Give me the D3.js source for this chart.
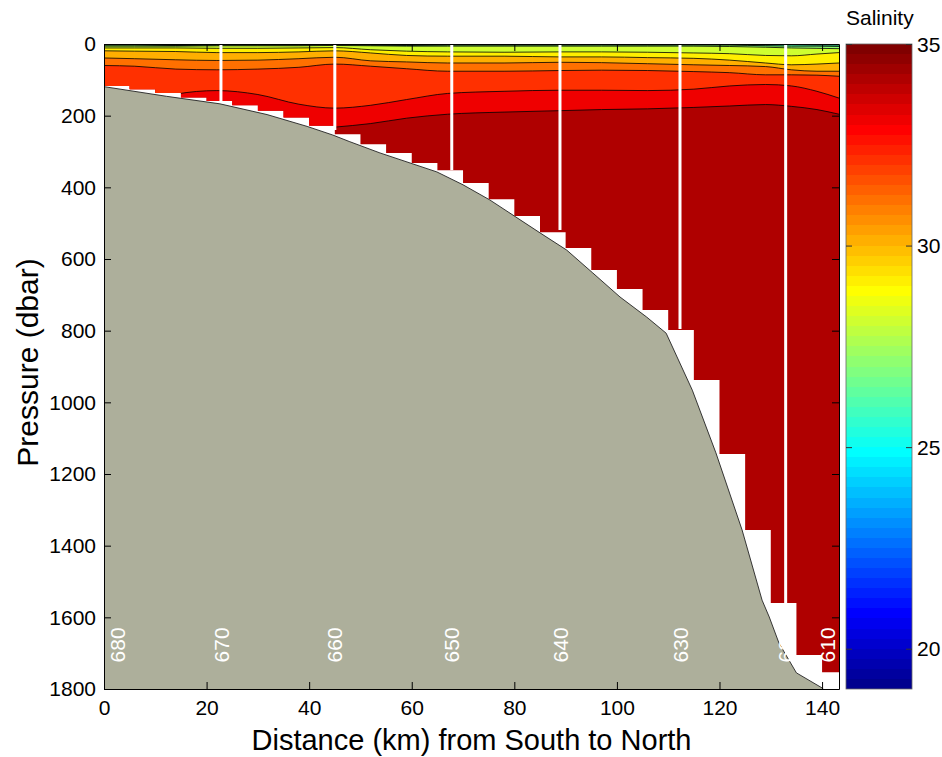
<!DOCTYPE html>
<html>
<head>
<meta charset="utf-8">
<script src="https://cdn.jsdelivr.net/npm/d3@7"></script>
<style>
  html, body { margin: 0; padding: 0; background: #fff; }
  svg { display: block; font-family: "Liberation Sans", Arial, Helvetica, sans-serif; }
</style>
</head>
<body>
<svg id="chart" width="942" height="757"></svg>
<script>
// ---------------------------------------------------------------
// Salinity section, South to North
// ---------------------------------------------------------------

// Distances (km) at which each isohaline depth is given
const distKm = [0, 6, 14, 22, 30, 38, 45, 52, 59, 67, 78, 89, 97, 106, 115, 122, 129, 134, 139, 143.3];

// Isohaline depths (dbar) along the section; values below the sea floor are hidden by the data mask
const iso34 = [330, 330, 330, 330, 300, 240, 232, 222, 207, 196, 190, 186, 183, 181, 177, 173, 169, 174, 183, 196];
const iso33 = [210, 210, 140, 130, 141, 168, 179, 171, 155, 138, 132, 129, 129, 130, 126, 117, 113, 117, 132, 151];
const iso32 = [60, 62, 70, 72, 70, 65, 56, 62, 69, 76, 76, 74, 73, 74, 77, 80, 86, 86, 87, 90];
const iso31 = [39, 41, 44, 46, 45, 41, 37, 47, 50, 53, 53, 51, 52, 55, 58, 60, 63, 72, 76, 76];
const iso30 = [19, 20, 21, 24, 24, 22, 19, 25, 32, 34, 34, 36, 36, 38, 40, 45, 53, 58, 56, 53];
const iso29 = [11, 11, 11, 12, 12, 11, 10, 16, 20, 22, 23, 22, 22, 23, 25, 27, 32, 33, 28, 24];
const iso28 = [6, 6, 6, 5, 5, 5, 4, 5, 6, 6, 6, 6, 6, 6, 6, 7, 9, 11, 12, 13];
const iso27 = [3, 3, 4, 3, 3, 3, 2, 3, 4, 3, 3, 3, 3, 3, 3, 3, 5, 6, 6, 7];
const iso26 = [2, 2, 3, 2, 2, 2, 1, 2, 2.5, 2, 2, 2, 1.5, 2, 1.5, 2, 3, 2, 3, 3];
const iso25 = [1, 1, 2.5, 1, 1, 1, 0.5, 1.5, 1.5, 1, 1.5, 1, 1, 1, 1, 1, 1, 1, 1, 1];
const iso24 = [0.5, 0.5, 2, 0.5, 0.5, 0.5, 0, 1, 1, 0.5, 1, 0.5, 0.5, 0.5, 0.5, 0.5, 0.5, 0.5, 0.5, 0.5];

// Contour levels (psu), deepest first, paired with the arrays above
const isoLevels = [34, 33, 32, 31, 30, 29, 28, 27, 26, 25, 24];
const isoDepths = [iso34, iso33, iso32, iso31, iso30, iso29, iso28, iso27, iso26, iso25, iso24];
const deepSalinity = 34;   // water below the 34 isohaline

// Gridded data extent: 5 km columns and the deepest gridded pressure in each
const colStartKm = [0, 5, 10, 15, 20, 25, 30, 35, 40, 45, 50, 55, 60, 65, 70, 75, 80, 85, 90, 95, 100, 105, 110, 115, 120, 125, 130, 135, 140];
const colBottomDbar = [117, 126, 137, 149, 159, 171, 186, 205, 228, 252, 280, 304, 332, 352, 388, 433, 480, 525, 569, 631, 684, 742, 798, 938, 1144, 1356, 1560, 1705, 1753];

// Sea-floor profile
const bathyKm   = [0, 12.2, 22.6, 31.8, 39.6, 44.6, 47.8, 53.8, 64.9, 70, 75.2, 85, 90.2, 95.3, 100.6, 105.8, 109.6, 114.7, 119.3, 124.4, 128.3, 129.7, 131.6, 135, 140, 140.2];
const bathyDbar = [119, 146, 167, 197, 230, 254, 272, 304, 357, 393, 435, 527, 575, 639, 706, 762, 807, 966, 1141, 1356, 1552, 1599, 1672, 1755, 1797, 1800];

// CTD stations: cast positions, cast depths and labels
const castKm    = [22.8, 45.0, 67.8, 88.9, 112.3, 132.9];
const castDbar  = [160, 240, 352, 519, 795, 1560];
const stationNames = ["680", "670", "660", "650", "640", "630", "620", "610"];
const stationKm    = [2.6, 22.8, 45.0, 67.8, 88.9, 112.3, 132.9, 141.0];
const stationLabelDbar = 1677;

// Axis ticks
const xTicks = [0, 20, 40, 60, 80, 100, 120, 140];
const yTicks = [0, 200, 400, 600, 800, 1000, 1200, 1400, 1600, 1800];
const cbTicks = [20, 25, 30, 35];
const cbDomain = [19, 35];
const xMax = 143.3, yMax = 1800;

// ---------------------------------------------------------------
const svg = d3.select("#chart");
const plot = { left: 104, right: 839, top: 44, bottom: 689 };
const cbar = { left: 846, right: 912 };
const tickFont = 21;

const x = d3.scaleLinear().domain([0, xMax]).range([plot.left, plot.right]);
const y = d3.scaleLinear().domain([0, yMax]).range([plot.top, plot.bottom]);

// 64-step jet colour map
function jetColors(m) {
  const n = Math.ceil(m / 4);
  const u = [];
  for (let k = 1; k <= n; k++) u.push(k / n);
  for (let k = 1; k < n; k++) u.push(1);
  for (let k = n; k >= 1; k--) u.push(k / n);
  const gOff = Math.ceil(n / 2) - (m % 4 === 1 ? 1 : 0);
  const ch = (row, off) => { const k = row - off; return (k >= 1 && k <= u.length) ? u[k - 1] : 0; };
  const out = [];
  for (let row = 1; row <= m; row++) {
    const r = ch(row, gOff + n), g = ch(row, gOff), b = ch(row, gOff - n);
    out.push(d3.rgb(Math.round(r * 255), Math.round(g * 255), Math.round(b * 255)).formatHex());
  }
  return out;
}
const jet = jetColors(64);
const color = d3.scaleQuantize().domain(cbDomain).range(jet);

// Mask for the gridded water column (staircase bottom)
const colEnd = i => (i + 1 < colStartKm.length ? colStartKm[i + 1] : xMax);
let maskPts = [[0, 0], [xMax, 0]];
for (let i = colStartKm.length - 1; i >= 0; i--) {
  maskPts.push([colEnd(i), colBottomDbar[i]]);
  maskPts.push([colStartKm[i], colBottomDbar[i]]);
}
const defs = svg.append("defs");
defs.append("clipPath").attr("id", "water")
  .append("path")
  .attr("d", d3.line().x(d => x(d[0])).y(d => y(d[1]))(maskPts) + "Z");

const water = svg.append("g").attr("clip-path", "url(#water)");

// Deep water fill
water.append("rect")
  .attr("x", plot.left).attr("y", plot.top)
  .attr("width", plot.right - plot.left).attr("height", plot.bottom - plot.top)
  .attr("fill", color(deepSalinity));

// Filled bands: each isohaline paints the fresher water above it
const curve = d3.curveMonotoneX;
const area = d3.area().curve(curve)
  .x(d => x(d[0])).y0(y(0)).y1(d => y(d[1]));
const line = d3.line().curve(curve)
  .x(d => x(d[0])).y(d => y(d[1]));

isoLevels.forEach((lev, i) => {
  const pts = distKm.map((k, j) => [k, isoDepths[i][j]]);
  water.append("path").attr("d", area(pts)).attr("fill", color(lev - 1));
});
isoLevels.forEach((lev, i) => {
  const pts = distKm.map((k, j) => [k, isoDepths[i][j]]);
  water.append("path").attr("d", line(pts))
    .attr("fill", "none").attr("stroke", "#000").attr("stroke-width", 0.8);
});

// CTD casts
svg.append("g").selectAll("line").data(castKm).join("line")
  .attr("x1", d => x(d)).attr("x2", d => x(d))
  .attr("y1", y(0)).attr("y2", (d, i) => y(castDbar[i]))
  .attr("stroke", "#fff").attr("stroke-width", 3);

// Sea floor
const floorPts = bathyKm.map((k, i) => [k, bathyDbar[i]]);
const floorPoly = floorPts.concat([[0, yMax]]);
svg.append("path")
  .attr("d", d3.line().x(d => x(d[0])).y(d => y(d[1]))(floorPoly) + "Z")
  .attr("fill", "#adaf9b");
svg.append("path")
  .attr("d", d3.line().x(d => x(d[0])).y(d => y(d[1]))(floorPts))
  .attr("fill", "none").attr("stroke", "#222").attr("stroke-width", 0.9);

// Station labels
svg.append("g").selectAll("text").data(stationNames).join("text")
  .attr("transform", (d, i) => `translate(${x(stationKm[i])},${y(stationLabelDbar)}) rotate(-90)`)
  .attr("text-anchor", "middle").attr("dy", "0.36em")
  .attr("fill", "#fff").attr("font-size", 21)
  .text(d => d);

// Axes with inward ticks on all four sides
const tick = 7;
function styleAxis(g) {
  g.select(".domain").attr("stroke", "#000").attr("stroke-width", 1);
  g.selectAll(".tick line").attr("stroke", "#000");
  g.selectAll(".tick text").attr("fill", "#000").attr("font-size", tickFont)
    .attr("font-family", "Liberation Sans, Arial, sans-serif");
}
const fmt = d3.format("d");
svg.append("g").attr("transform", `translate(0,${plot.bottom})`)
  .call(d3.axisBottom(x).tickValues(xTicks).tickFormat(fmt).tickSize(-tick).tickSizeOuter(0).tickPadding(11))
  .call(styleAxis);
svg.append("g").attr("transform", `translate(0,${plot.top})`)
  .call(d3.axisTop(x).tickValues(xTicks).tickSize(-tick).tickSizeOuter(0).tickFormat(""))
  .call(styleAxis);
svg.append("g").attr("transform", `translate(${plot.left},0)`)
  .call(d3.axisLeft(y).tickValues(yTicks).tickFormat(fmt).tickSize(-tick).tickSizeOuter(0).tickPadding(8))
  .call(styleAxis);
svg.append("g").attr("transform", `translate(${plot.right},0)`)
  .call(d3.axisRight(y).tickValues(yTicks).tickSize(-tick).tickSizeOuter(0).tickFormat(""))
  .call(styleAxis);

// Axis titles
svg.append("text")
  .attr("x", (plot.left + plot.right) / 2).attr("y", 750)
  .attr("text-anchor", "middle").attr("font-size", 29)
  .text("Distance (km) from South to North");
svg.append("text")
  .attr("transform", `translate(38,${(plot.top + plot.bottom) / 2 - 4}) rotate(-90)`)
  .attr("text-anchor", "middle").attr("font-size", 30)
  .text("Pressure (dbar)");

// Colour bar
const cb = d3.scaleLinear().domain(cbDomain).range([plot.bottom, plot.top]);
const step = (cbDomain[1] - cbDomain[0]) / jet.length;
svg.append("g").selectAll("rect").data(jet).join("rect")
  .attr("x", cbar.left).attr("width", cbar.right - cbar.left)
  .attr("y", (d, i) => cb(cbDomain[0] + (i + 1) * step))
  .attr("height", (d, i) => cb(cbDomain[0] + i * step) - cb(cbDomain[0] + (i + 1) * step))
  .attr("fill", d => d).attr("shape-rendering", "crispEdges");
svg.append("rect")
  .attr("x", cbar.left).attr("y", plot.top)
  .attr("width", cbar.right - cbar.left).attr("height", plot.bottom - plot.top)
  .attr("fill", "none").attr("stroke", "#666").attr("stroke-width", 0.8);
svg.append("g").attr("transform", `translate(${cbar.left},0)`)
  .call(d3.axisRight(cb).tickValues(cbTicks).tickSize(6).tickSizeOuter(0).tickFormat(""))
  .call(g => g.select(".domain").remove())
  .call(g => g.selectAll(".tick line").attr("stroke", "#333"));
svg.append("g").attr("transform", `translate(${cbar.right},0)`)
  .call(d3.axisLeft(cb).tickValues(cbTicks).tickSize(6).tickSizeOuter(0).tickFormat(""))
  .call(g => g.select(".domain").remove())
  .call(g => g.selectAll(".tick line").attr("stroke", "#333"));
svg.append("g").selectAll("text").data(cbTicks).join("text")
  .attr("x", cbar.right + 5).attr("y", d => cb(d)).attr("dy", "0.36em")
  .attr("font-size", tickFont).text(d => d);
svg.append("text")
  .attr("x", cbar.left).attr("y", 25)
  .attr("font-size", 21).text("Salinity");
</script>
</body>
</html>
